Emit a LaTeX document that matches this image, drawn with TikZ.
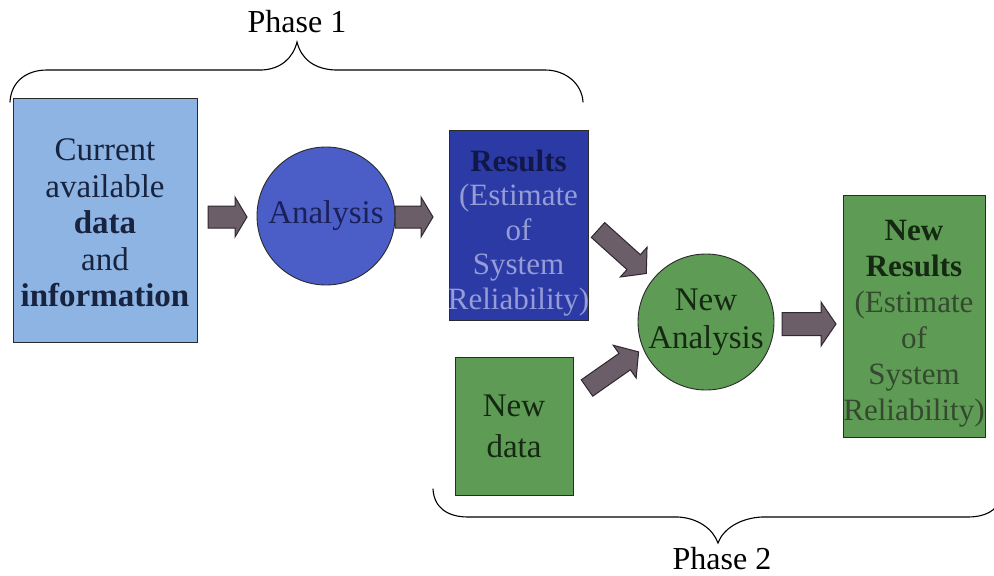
\documentclass[tikz,border=0pt]{standalone}
\usepackage{fontspec}
\setmainfont{Liberation Serif}
\definecolor{lightbox}{HTML}{8DB4E2}
\definecolor{anafill}{HTML}{4B5EC8}
\definecolor{resfill}{HTML}{2C3AA6}
\definecolor{greenfill}{HTML}{5E9B54}
\definecolor{arrfill}{HTML}{6B5E68}
\definecolor{arrline}{HTML}{2E2830}
\definecolor{navytext}{HTML}{18233F}
\definecolor{anatext}{HTML}{1A2058}
\definecolor{resdark}{HTML}{111848}
\definecolor{reslight}{HTML}{959CD6}
\definecolor{greentext}{HTML}{142812}
\definecolor{greenlight}{HTML}{34492F}
\definecolor{edge}{HTML}{2A2A2A}
\newcommand\blockarrow[7]{% tail, angle, length, head length, shaft half, head half, name
  \draw[blockarr, shift={#1}, rotate=#2]
    (0,-#5) -- ({#3-#4},-#5) -- ({#3-#4},-#6) -- (#3,0) -- ({#3-#4},#6)
    -- ({#3-#4},#5) -- (0,#5) -- cycle;
  \coordinate[shift={#1}, rotate=#2] (#7) at (#3,0);}
\begin{document}
\begin{tikzpicture}[x=1pt,y=-1pt,
  boxtext/.style={font=\fontsize{33}{36}\selectfont},
  box/.style={draw=edge, line width=0.9pt, inner sep=0pt, align=center, boxtext},
  label/.style={inner sep=0pt, align=center},
  circ/.style={circle, draw=edge, line width=0.9pt, inner sep=0pt, align=center, boxtext},
  blockarr/.style={fill=arrfill, draw=arrline, line width=1pt, line join=miter},
  brace/.style={draw=black, line width=1.1pt, line cap=round},
  phase/.style={font=\fontsize{32}{36}\selectfont, anchor=base, inner sep=0pt}]
\clip (0,0) rectangle (994,576);
\fill[white] (0,0) rectangle (994,576);

% Phase 1 brace and label
\node[phase] (p1) at (297,32) {Phase 1};
\draw[brace] (10,102) .. controls (11,82) and (26,70) .. (47,70) -- (262,70)
  .. controls (281,69) and (293,58) .. (297,42)
  .. controls (301,58) and (313,69) .. (335,70) -- (545,70)
  .. controls (566,70) and (582,84) .. (583,102);

% Phase 2 brace and label
\node[phase] (p2) at (722,569) {Phase 2};
\draw[brace] (433,489) .. controls (434,508) and (448,517) .. (468,517) -- (678,517)
  .. controls (698,518) and (713,529) .. (718,543)
  .. controls (723,529) and (740,518) .. (762,517) -- (968,517)
  .. controls (988,517) and (1002,508) .. (1003,489);

% Boxes and circles
\node[box, fill=lightbox, text=navytext, minimum width=184pt, minimum height=244pt]
  (cur) at (105,220) {};
\node[label, boxtext, text=navytext, font=\fontsize{33}{36.5}\selectfont] (curtext) at (105,223)
  {Current\\available\\\textbf{data}\\and\\\textbf{information}};
\node[circ, fill=anafill, text=anatext, minimum size=138pt] (ana) at (326,216) {Analysis};
\node[box, fill=resfill, minimum width=139pt, minimum height=190pt] (res) at (518.5,225) {};
\node[label, text=reslight, font=\fontsize{31}{34.5}\selectfont] (restext) at (518.5,233)
  {\textcolor{resdark}{\textbf{Results}}\\(Estimate\\of\\System\\Reliability)};
\node[box, fill=greenfill, text=greentext, minimum width=118pt, minimum height=138pt,
  font=\fontsize{33}{41}\selectfont]
  (nd) at (514,426) {New\\data};
\node[circ, fill=greenfill, text=greentext, minimum size=136pt,
  font=\fontsize{33}{38}\selectfont] (nana) at (706,322) {New\\Analysis};
\node[box, fill=greenfill, minimum width=142pt, minimum height=242pt] (nres) at (914,316) {};
\node[label, text=greenlight, font=\fontsize{31}{36}\selectfont] (nrestext) at (914,324)
  {\textcolor{greentext}{\textbf{New}}\\\textcolor{greentext}{\textbf{Results}}\\(Estimate\\of\\System\\Reliability)};

% Block arrows
\blockarrow{(208,217)}{0}{39}{12}{11}{20}{a1}
\blockarrow{(395,217)}{0}{38}{12}{11}{20}{a2}
\blockarrow{(598,230)}{-42}{65}{17}{10}{20}{a3}
\blockarrow{(587,388)}{35}{63}{17}{10}{20}{a4}
\blockarrow{(782,324)}{0}{54}{15}{11.5}{22}{a5}
\end{tikzpicture}
\end{document}
